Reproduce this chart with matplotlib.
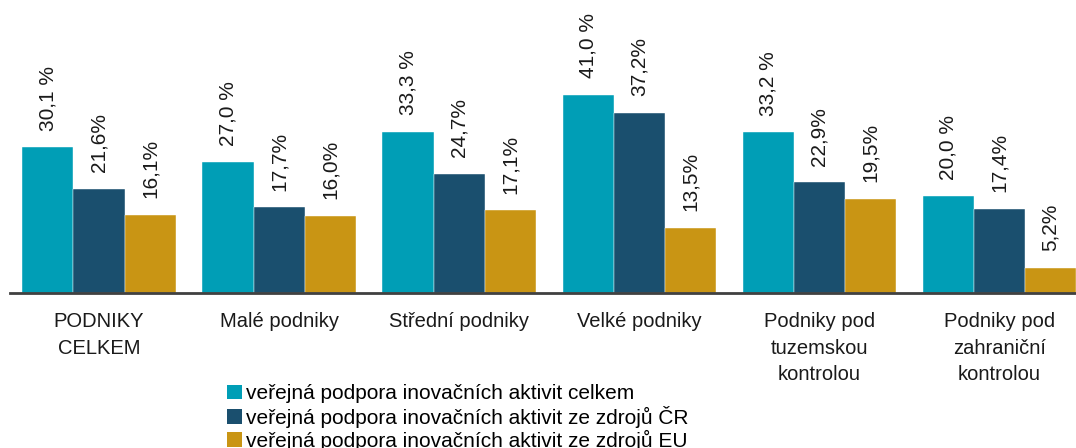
import numpy as np
import matplotlib.pyplot as plt
from matplotlib.patches import Patch

plt.rcParams['font.family'] = ['Liberation Sans', 'DejaVu Sans']

# kategorie podniků
kategorie = ['PODNIKY\nCELKEM', 'Malé podniky', 'Střední podniky', 'Velké podniky',
             'Podniky pod\ntuzemskou\nkontrolou', 'Podniky pod\nzahraniční\nkontrolou']

# podíl podniků s veřejnou podporou (%)
celkem = [30.1, 27.0, 33.3, 41.0, 33.2, 20.0]
zdroje_cr = [21.6, 17.7, 24.7, 37.2, 22.9, 17.4]
zdroje_eu = [16.1, 16.0, 17.1, 13.5, 19.5, 5.2]

nazvy = ['veřejná podpora inovačních aktivit celkem',
         'veřejná podpora inovačních aktivit ze zdrojů ČR',
         'veřejná podpora inovačních aktivit ze zdrojů EU']
barvy = ['#009EB6', '#1A4F6E', '#C99514']
formaty = ['{:.1f} %', '{:.1f}%', '{:.1f}%']

fig = plt.figure(figsize=(10.76, 4.48), dpi=100)
ax = fig.add_axes([0.0, 0.346, 1.0, 0.654])

x = np.arange(len(kategorie))
sirka = 0.284
serie = [celkem, zdroje_cr, zdroje_eu]

for i, (hodnoty, barva, fmt) in enumerate(zip(serie, barvy, formaty)):
    pozice = x + (i - 1) * sirka
    ax.bar(pozice, hodnoty, width=sirka, color=barva, edgecolor='white', linewidth=0.3)
    for px, h in zip(pozice, hodnoty):
        ax.annotate(fmt.format(h).replace('.', ','), (px, h), xytext=(0, 12),
                    textcoords='offset points', rotation=90, ha='center', va='bottom',
                    fontsize=15, color='#1a1a1a')

ax.set_xlim(-0.55, 5.425)
ax.set_ylim(0, 60.6)
ax.set_xticks(x)
ax.set_xticklabels(kategorie, fontsize=14.5, linespacing=1.5, color='#1a1a1a')
ax.tick_params(axis='x', length=0, pad=14)
ax.set_yticks([])
for s in ['top', 'right', 'left']:
    ax.spines[s].set_visible(False)
ax.spines['bottom'].set_color('#404040')
ax.spines['bottom'].set_linewidth(2)
ax.spines['bottom'].set_bounds(-0.497, 5.425)

handles = [Patch(facecolor=b, edgecolor='none') for b in barvy]
fig.legend(handles, nazvy, loc='lower left', bbox_to_anchor=(0.211, -0.006),
           frameon=False, fontsize=15, handlelength=0.7, handleheight=0.7,
           handletextpad=0.2, labelspacing=0.1, borderpad=0, borderaxespad=0)

fig.savefig('out.png', dpi=100)
